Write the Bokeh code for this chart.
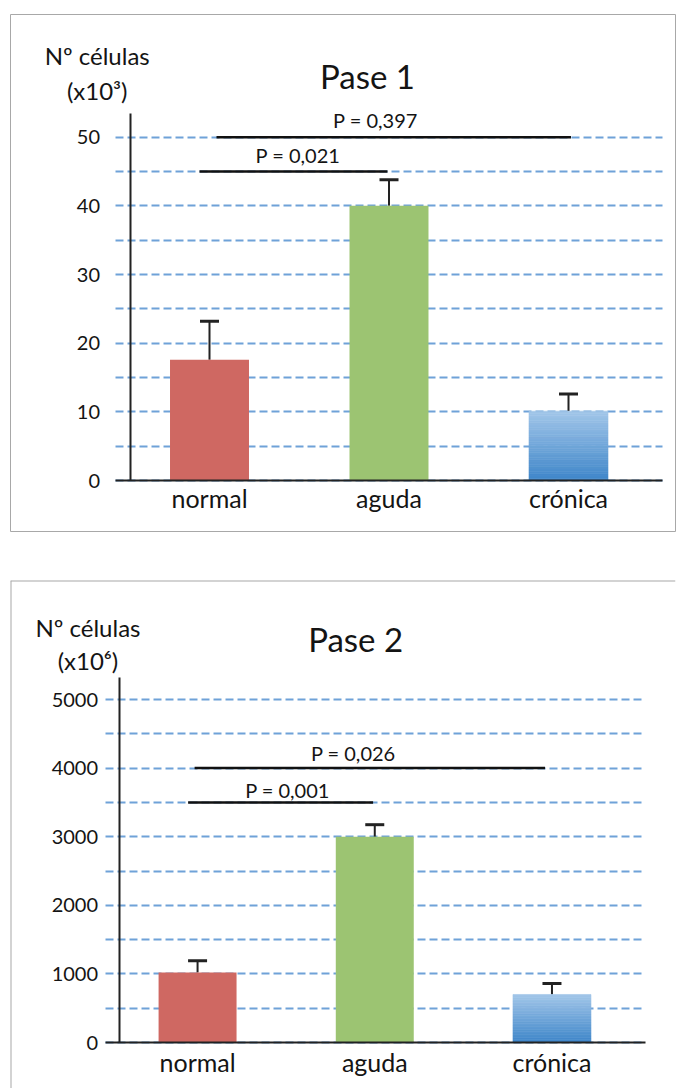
from bokeh.plotting import figure
from bokeh.layouts import column
from bokeh.models import (ColumnDataSource, Range1d, FixedTicker, Span, Whisker, TeeHead, Grid)
from bokeh.core.properties import value
from bokeh.embed import file_html
from bokeh.resources import INLINE

# ---------------- data ----------------
categories = ["normal", "aguda", "crónica"]

# Pase 1 : Nº células (x10^3)
pase1_values = [17.6, 40.0, 10.1]
pase1_errors = [5.6, 3.8, 2.5]
pase1_p_from = ["normal", "normal"]
pase1_p_to = ["crónica", "aguda"]
pase1_p_level = [50, 45]
pase1_p_text = ["P = 0,397", "P = 0,021"]

# Pase 2 : Nº células (x10^6)
pase2_values = [1020, 3000, 700]
pase2_errors = [170, 175, 160]
pase2_p_from = ["normal", "normal"]
pase2_p_to = ["crónica", "aguda"]
pase2_p_level = [4000, 3500]
pase2_p_text = ["P = 0,026", "P = 0,001"]

FONT = "Lato"
TXT = "#141414"
AX = "#222222"
BAR_COLORS = ["#CF6862", "#9CC472", None]
GRAD_TOP = (0xA2, 0xC6, 0xE9)
GRAD_BOT = (0x3E, 0x86, 0xC9)
HAS_CROSS = "cross_bounds" in Grid.properties()
BASE_SHIFT = 0.35   # baseline correction, fraction of font size


def hexcol(rgb):
    return "#%02x%02x%02x" % tuple(int(round(c)) for c in rgb)


def y_top_tick(y_top, step):
    return int(y_top // step) * step


def build(values, errors, p_from, p_to, p_level, p_text, *, L, title, ylab1, ylab2,
          tick_step, grid_step, y_top, tick_standoff, cat_standoff, fig_w, fig_h, borders,
          title_pos, ylab_x, ylab_y, ptext_pos, br_off, full_box):
    fx0, fy0, fx1, fy1 = L["frame"]          # pixels of the plot frame
    xu, xc0 = L["xunit"], L["xc0"]           # px per category, x pixel of first category
    yu, y0p = L["yunit"], L["y0"]            # px per value unit, y pixel of zero

    def px_x(px):
        return (px - xc0) / xu

    def px_y(py):
        return (y0p - py) / yu

    def base_y(py, size):
        return px_y(py - BASE_SHIFT * size)

    xpos = list(range(len(categories)))
    cat_x = {c: i for i, c in enumerate(categories)}

    p = figure(x_range=Range1d(px_x(fx0), px_x(fx1)), y_range=Range1d(px_y(fy1), px_y(fy0)),
               width=fig_w, height=fig_h, output_backend="svg", toolbar_location=None,
               title=None,
               min_border_left=borders[0], min_border_right=borders[1],
               min_border_top=borders[2], min_border_bottom=borders[3])
    p.background_fill_color = "white"
    p.border_fill_color = "white"
    if full_box:
        p.outline_line_color = "#a8a8a8"
        p.outline_line_width = 1
    else:
        p.outline_line_color = None
        p.add_layout(Span(location=px_x(fx0), dimension="height", line_color="#a8a8a8", line_width=2))
        p.add_layout(Span(location=px_y(fy0), dimension="width", line_color="#a8a8a8", line_width=2))

    gx0, gx1 = px_x(L["grid"][0]), px_x(L["grid"][1])
    grid_ticks = list(range(0, y_top_tick(y_top, grid_step) + 1, grid_step))
    axis_ticks = list(range(0, y_top_tick(y_top, tick_step) + 1, tick_step))

    # grid
    p.xgrid.visible = False
    if HAS_CROSS:
        p.ygrid.ticker = FixedTicker(ticks=grid_ticks)
        p.ygrid.cross_bounds = (gx0, gx1)
        p.ygrid.grid_line_color = "#6FA2D8"
        p.ygrid.grid_line_width = 2
        p.ygrid.grid_line_dash = "8 4"
    else:
        p.ygrid.visible = False
        p.segment(x0=[gx0] * len(grid_ticks), x1=[gx1] * len(grid_ticks), y0=grid_ticks,
                  y1=grid_ticks, line_color="#6FA2D8", line_width=2, line_dash="8 4")

    # y axis at a fixed location
    ya = p.yaxis[0]
    ya.fixed_location = px_x(L["yaxis_x"])
    ya.bounds = (0, y_top)
    ya.ticker = FixedTicker(ticks=axis_ticks)
    ya.axis_line_color = AX
    ya.axis_line_width = 2
    ya.major_tick_line_color = None
    ya.minor_tick_line_color = None
    ya.major_label_text_font = FONT
    ya.major_label_text_font_size = "20px"
    ya.major_label_text_color = TXT
    ya.major_label_standoff = tick_standoff

    # x axis at zero
    xa = p.xaxis[0]
    xa.fixed_location = 0
    xa.bounds = (gx0, gx1)
    xa.ticker = FixedTicker(ticks=xpos)
    xa.major_label_overrides = {i: c for i, c in enumerate(categories)}
    xa.axis_line_color = AX
    xa.axis_line_width = 2
    xa.major_tick_line_color = None
    xa.minor_tick_line_color = None
    xa.major_label_text_font = FONT
    xa.major_label_text_font_size = "25px"
    xa.major_label_text_color = TXT
    xa.major_label_standoff = cat_standoff

    # bars
    sx = [x for x, col in zip(xpos, BAR_COLORS) if col is not None]
    sv = [v for v, col in zip(values, BAR_COLORS) if col is not None]
    sc = [col for col in BAR_COLORS if col is not None]
    p.vbar(x=sx, top=sv, width=0.44, fill_color=sc, line_color=None)
    n = 30
    for x, v, col in zip(xpos, values, BAR_COLORS):
        if col is not None:
            continue
        bots = [v * i / n for i in range(n)]
        tops = [v * (i + 1) / n for i in range(n)]
        cols = [hexcol([GRAD_BOT[k] + (GRAD_TOP[k] - GRAD_BOT[k]) * (i + 0.5) / n for k in range(3)])
                for i in range(n)]
        p.vbar(x=[x] * n, bottom=bots, top=tops, width=0.44, fill_color=cols,
               line_color=cols, line_width=0.6)

    # error bars (upper only)
    esrc = ColumnDataSource(dict(x=xpos, lower=values,
                                 upper=[v + e for v, e in zip(values, errors)]))
    p.add_layout(Whisker(base="x", lower="lower", upper="upper", source=esrc,
                         dimension="height", line_color=AX, line_width=2,
                         lower_head=None,
                         upper_head=TeeHead(size=19, line_width=3, line_color=AX)))

    # significance brackets
    x0 = [cat_x[a] + off[0] / xu for a, off in zip(p_from, br_off)]
    x1 = [cat_x[b] + off[1] / xu for b, off in zip(p_to, br_off)]
    p.segment(x0=x0, y0=p_level, x1=x1, y1=p_level, line_color="#111111", line_width=2.5)
    p.text(x=[px_x(t[0]) for t in ptext_pos], y=[base_y(t[1], 20) for t in ptext_pos], text=p_text,
           text_align="center", text_baseline="alphabetic",
           text_font=value(FONT), text_font_size="20px", text_color=TXT)

    # title and y label
    p.text(x=[px_x(title_pos[0])], y=[base_y(title_pos[1], 33)], text=[title],
           text_align="center", text_baseline="alphabetic",
           text_font=value(FONT), text_font_size="33px", text_color=TXT)
    p.text(x=[px_x(ylab_x)] * 2, y=[base_y(ylab_y[0], 24), base_y(ylab_y[1], 24)], text=[ylab1, ylab2],
           text_align="center", text_baseline="alphabetic",
           text_font=value(FONT), text_font_size="24px", text_color=TXT)
    return p


# layout (picture pixels)
L1 = dict(frame=(10, 14, 675, 531), xunit=179.5, xc0=209.0, yunit=6.866, y0=480.0,
          grid=(115.2, 661.8), yaxis_x=129.5)
L2 = dict(frame=(10, 580, 684, 1088), xunit=179.6, xc0=199.6, yunit=0.0686, y0=1042.0,
          grid=(106.2, 653.7), yaxis_x=120.0)

p1 = build(pase1_values, pase1_errors, pase1_p_from, pase1_p_to, pase1_p_level, pase1_p_text,
           L=L1, title="Pase 1", ylab1="Nº células", ylab2="(x10³)",
           tick_step=10, grid_step=5, y_top=53.45, tick_standoff=24, cat_standoff=-4,
           fig_w=684, fig_h=532, borders=(10, 9, 14, 1),
           title_pos=(367, 86.7), ylab_x=96.7, ylab_y=(63.3, 98.3),
           ptext_pos=[(375, 126.7), (297.5, 161.7)],
           br_off=[(7, 2.5), (-10, -1.5)], full_box=True)

p2 = build(pase2_values, pase2_errors, pase2_p_from, pase2_p_to, pase2_p_level, pase2_p_text,
           L=L2, title="Pase 2", ylab1="Nº células", ylab2="(x10⁶)",
           tick_step=1000, grid_step=500, y_top=5325, tick_standoff=15, cat_standoff=-2,
           fig_w=684, fig_h=556, borders=(10, 0, 48, 0),
           title_pos=(359.8, 649.7), ylab_x=88.5, ylab_y=(635, 668),
           ptext_pos=[(357.5, 759), (290.8, 796)],
           br_off=[(-3, -7), (-9.6, -1.7)], full_box=False)

layout = column(p1, p2)
open("out.html", "w").write(file_html(layout, INLINE))
